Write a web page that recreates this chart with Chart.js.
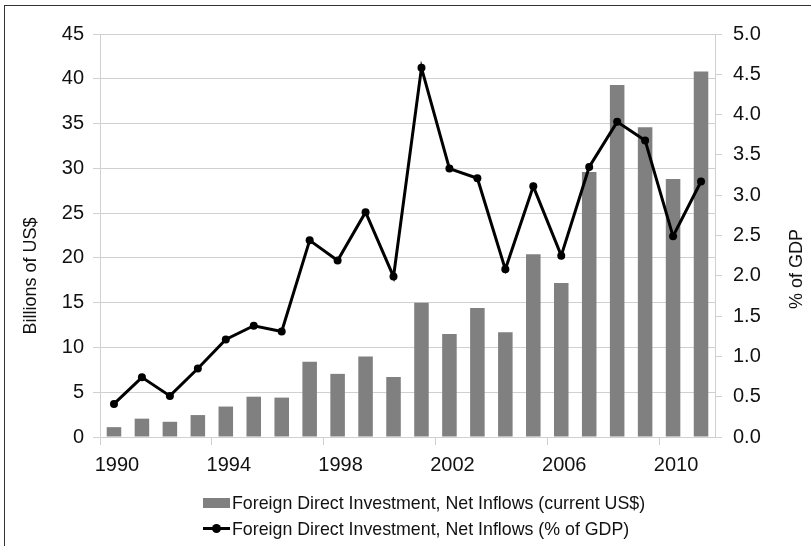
<!DOCTYPE html>
<html>
<head>
<meta charset="utf-8">
<script src="https://cdn.jsdelivr.net/npm/chart.js@4/dist/chart.umd.min.js"></script>
<style>
  html, body { margin: 0; padding: 0; background: #fff; }
  #wrap { position: relative; width: 811px; height: 546px; overflow: hidden; }
  #frame { position: absolute; left: 4px; top: 5px; width: 900px; height: 700px; border-left: 1px solid #333; border-top: 1px solid #333; pointer-events: none; }
  canvas { position: absolute; left: 0; top: 0; }
  #legend { position: absolute; left: 203px; top: 490px; font-family: "Liberation Sans", Arial, sans-serif; font-size: 17.8px; color: #111; }
  .item { position: relative; height: 26px; line-height: 26px; padding-left: 29px; white-space: nowrap; }
  .sw { position: absolute; left: 0; }
</style>
</head>
<body>
<div id="wrap">
  <canvas id="c" width="811" height="546"></canvas>
  <div id="frame"></div>
  <div id="legend"></div>
</div>
<script>
const years = ['1990','1991','1992','1993','1994','1995','1996','1997','1998','1999','2000','2001','2002','2003','2004','2005','2006','2007','2008','2009','2010','2011'];
const fdiBillions = [1.1, 2.05, 1.7, 2.45, 3.4, 4.5, 4.4, 8.4, 7.05, 9.0, 6.7, 15.0, 11.5, 14.4, 11.7, 20.4, 17.2, 29.6, 39.3, 34.6, 28.8, 40.8];
const fdiPctGdp = [0.41, 0.74, 0.51, 0.85, 1.21, 1.38, 1.31, 2.44, 2.19, 2.79, 1.99, 4.58, 3.33, 3.21, 2.08, 3.11, 2.25, 3.35, 3.91, 3.68, 2.49, 3.17];
const leftTicks = { min: 0, max: 45, step: 5 };
const rightTicks = { min: 0, max: 5, step: 0.5 };
const barLabel = 'Foreign Direct Investment, Net Inflows (current US$)';
const lineLabel = 'Foreign Direct Investment, Net Inflows (% of GDP)';
const leftTitle = 'Billions of US$';
const rightTitle = '% of GDP';

const FONT = '"Liberation Sans", Arial, sans-serif';
const GRID = '#d0d0d0';

const axisTitles = {
  id: 'axisTitles',
  afterDraw(chart) {
    const ctx = chart.ctx;
    [[leftTitle, 31, 276], [rightTitle, 797, 269]].forEach(([t, x, y]) => {
      ctx.save();
      ctx.fillStyle = '#111';
      ctx.font = '18px ' + FONT;
      ctx.textAlign = 'center';
      ctx.textBaseline = 'middle';
      ctx.translate(x, y);
      ctx.rotate(-Math.PI / 2);
      ctx.fillText(t, 0, 0);
      ctx.restore();
    });
  }
};

const chart = new Chart(document.getElementById('c'), {
  type: 'bar',
  data: {
    labels: years,
    datasets: [
      {
        type: 'line',
        label: lineLabel,
        data: fdiPctGdp,
        yAxisID: 'y1',
        borderColor: '#000',
        backgroundColor: '#000',
        borderWidth: 3,
        pointRadius: 4,
        pointBackgroundColor: '#000',
        pointBorderWidth: 0,
        tension: 0,
        order: 0
      },
      {
        type: 'bar',
        label: barLabel,
        data: fdiBillions,
        yAxisID: 'y',
        backgroundColor: '#808080',
        categoryPercentage: 1,
        barPercentage: 0.52,
        order: 1
      }
    ]
  },
  options: {
    responsive: false,
    animation: false,
    devicePixelRatio: 1,
    layout: { padding: { top: 34, left: 0, right: 0, bottom: 0 } },
    plugins: { legend: { display: false }, tooltip: { enabled: false } },
    scales: {
      x: {
        offset: true,
        afterFit(s) { s.height = 109; },
        grid: {
          offset: true,
          drawOnChartArea: false,
          drawTicks: true,
          tickLength: 8,
          color: (c) => (c.index % 4 === 0 ? GRID : 'rgba(0,0,0,0)')
        },
        border: { display: true, color: GRID },
        ticks: {
          autoSkip: false,
          maxRotation: 0,
          padding: 8,
          labelOffset: 3,
          color: '#111',
          font: { family: FONT, size: 20 },
          callback: function (v, i) { return i % 4 === 0 ? this.getLabelForValue(v) : ''; }
        }
      },
      y: {
        position: 'left',
        min: leftTicks.min,
        max: leftTicks.max,
        afterFit(s) { s.width = 100; },
        grid: { color: GRID, tickLength: 7 },
        border: { display: true, color: GRID },
        ticks: {
          stepSize: leftTicks.step,
          padding: 9,
          color: '#111',
          font: { family: FONT, size: 20 }
        }
      },
      y1: {
        position: 'right',
        min: rightTicks.min,
        max: rightTicks.max,
        afterFit(s) { s.width = 96; },
        grid: { drawOnChartArea: false, color: GRID, tickLength: 7 },
        border: { display: true, color: GRID },
        ticks: {
          stepSize: rightTicks.step,
          padding: 11,
          color: '#111',
          font: { family: FONT, size: 20 },
          callback: (v) => Number(v).toFixed(1)
        }
      }
    }
  },
  plugins: [axisTitles]
});

// HTML legend built from the chart's datasets (bar first, then line)
const legend = document.getElementById('legend');
const ds = chart.data.datasets;
[ds[1], ds[0]].forEach((d) => {
  const row = document.createElement('div');
  row.className = 'item';
  const sw = document.createElement('span');
  sw.className = 'sw';
  if (d.type === 'bar') {
    sw.style.cssText = 'left:0;top:8px;width:27px;height:10px;background:' + d.backgroundColor + ';';
  } else {
    sw.style.cssText = 'left:0;top:11px;width:27px;height:3px;background:' + d.borderColor + ';';
    const dot = document.createElement('span');
    dot.style.cssText = 'position:absolute;left:9px;top:-3px;width:9px;height:9px;border-radius:50%;background:' + d.borderColor + ';';
    sw.appendChild(dot);
  }
  row.appendChild(sw);
  row.appendChild(document.createTextNode(d.label));
  legend.appendChild(row);
});
</script>
</body>
</html>
